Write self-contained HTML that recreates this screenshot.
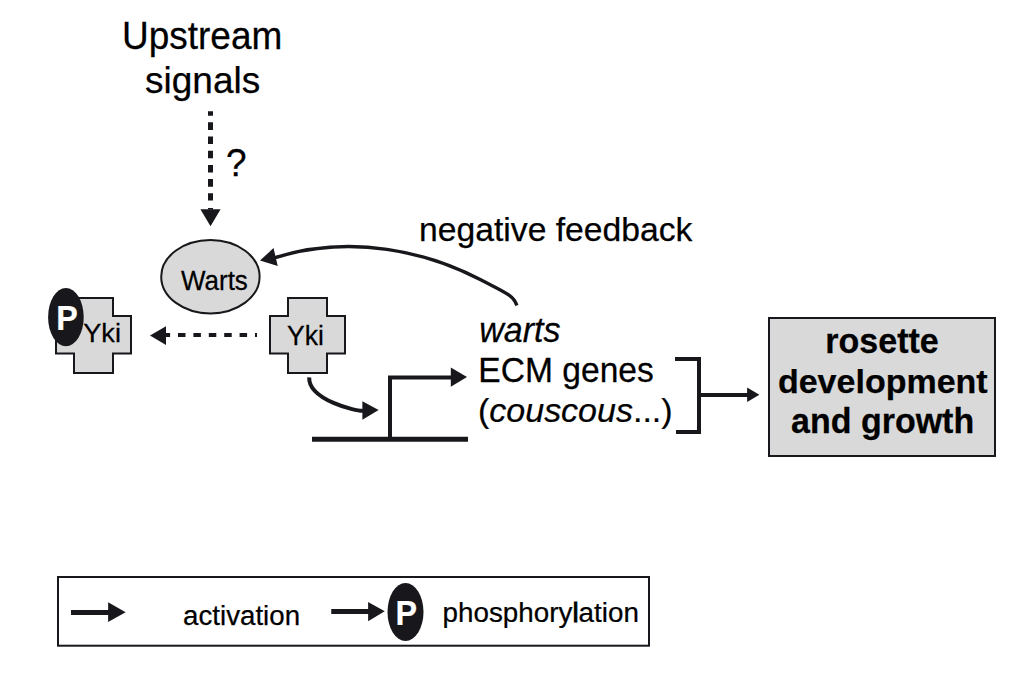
<!DOCTYPE html>
<html><head><meta charset="utf-8">
<style>
html,body{margin:0;padding:0;background:#fff;width:1024px;height:680px;overflow:hidden}
svg{display:block}
text{font-family:"Liberation Sans",sans-serif;fill:#000;stroke:#000;stroke-width:0.25px}
</style></head><body>
<svg width="1024" height="680" viewBox="0 0 1024 680">
<rect width="1024" height="680" fill="#fff"/>
<!-- Upstream signals -->
<text transform="translate(122,48.6) scale(1,1.035)" font-size="37">Upstream</text>
<text transform="translate(145,93.3) scale(1,1)" font-size="37">signals</text>
<!-- dotted arrow -->
<line x1="210.5" y1="111.25" x2="210.5" y2="200.6" stroke="#18171b" stroke-width="5" stroke-dasharray="7.6 6.6" stroke-dashoffset="3.15"/>
<polygon points="200.4,209.2 220.6,209.2 210.5,226.3" fill="#18171b"/><rect x="208" y="208" width="5" height="1.5" fill="#18171b"/>
<text transform="translate(226,175.6) scale(1,1.035)" font-size="37">?</text>
<!-- Warts ellipse -->
<ellipse cx="210.4" cy="276.7" rx="49.2" ry="36.7" fill="#d9d9d9" stroke="#18171b" stroke-width="2"/>
<text transform="translate(181,290) scale(1,1.035)" font-size="26">Warts</text>
<!-- left cross -->
<path d="M74 298 H113 V316 H131 V353.5 H113 V373 H74 V353.5 H56 V316 H74 Z" fill="#d9d9d9" stroke="#18171b" stroke-width="2"/>
<ellipse cx="65.9" cy="317.2" rx="17.8" ry="29.1" fill="#18171b"/>
<text transform="translate(56.2,330.3) scale(0.95,1.04)" font-size="34" font-weight="bold" style="fill:#fff;stroke:#fff;stroke-width:0.2px">P</text>
<text transform="translate(83.2,341.9) scale(1.045,1.01)" font-size="26">Yki</text>
<!-- right cross -->
<path d="M288 298 H327 V316 H345 V353.5 H327 V373 H288 V353.5 H270 V316 H288 Z" fill="#d9d9d9" stroke="#18171b" stroke-width="2"/>
<text transform="translate(287,345) scale(1,1.035)" font-size="26.5">Yki</text>
<!-- dashed arrow -->
<line x1="257" y1="335" x2="166" y2="335" stroke="#18171b" stroke-width="4" stroke-dasharray="7.5 7.9" stroke-dashoffset="5.5"/>
<polygon points="150,335.5 166,326.25 166,345" fill="#18171b"/>
<!-- curved arrow Yki -> promoter -->
<path d="M309.2 377.3 C308.2 400 357.2 411.7 363 410.8" fill="none" stroke="#18171b" stroke-width="4"/>
<polygon points="378.6,410.1 362.4,401.3 362.4,419.8" fill="#18171b"/>
<!-- promoter -->
<line x1="312" y1="439.3" x2="468" y2="439.3" stroke="#18171b" stroke-width="5"/>
<polyline points="390,439 390,377.6 452,377.6" fill="none" stroke="#18171b" stroke-width="4"/>
<polygon points="467,377 450.8,367.4 450.8,386.7" fill="#18171b"/>
<!-- feedback curve -->
<path d="M516.8 305.5 C513.7 295.4 504.8 292.4 480.7 279.8 C427.7 252.1 352.5 233.6 274.5 257.8" fill="none" stroke="#18171b" stroke-width="3.4"/>
<polygon points="260,260.6 273.5,248.1 277.75,266" fill="#18171b"/>
<text transform="translate(419,240.6) scale(1,1)" font-size="33.7">negative feedback</text>
<!-- genes text -->
<text transform="translate(479.2,342) scale(1,1.005)" font-size="34" font-style="italic">warts</text>
<text transform="translate(478.3,381.5) scale(1,1.035)" font-size="33.6">ECM genes</text>
<text transform="translate(478,422.4) scale(1,0.995)" font-size="34">(<tspan font-style="italic">couscous</tspan>...)</text>
<!-- bracket -->
<polyline points="675,359 699,359 699,432 676,432" fill="none" stroke="#18171b" stroke-width="4"/>
<line x1="699" y1="395" x2="748" y2="395" stroke="#18171b" stroke-width="4"/>
<polygon points="759.4,394.75 747.1,387.5 747.1,401.9" fill="#18171b"/>
<!-- rosette box -->
<rect x="769" y="318" width="226" height="138" fill="#d9d9d9" stroke="#18171b" stroke-width="2"/>
<text transform="translate(882,352.5) scale(1,1.035)" font-size="34" font-weight="bold" text-anchor="middle">rosette</text>
<text transform="translate(882.8,392.8) scale(1,1)" font-size="34" font-weight="bold" text-anchor="middle">development</text>
<text transform="translate(882.6,433.4) scale(1,1.035)" font-size="34" font-weight="bold" text-anchor="middle">and growth</text>
<!-- legend -->
<rect x="58" y="577" width="591" height="68.7" fill="none" stroke="#18171b" stroke-width="2"/>
<line x1="71" y1="612.4" x2="109" y2="612.4" stroke="#18171b" stroke-width="5"/>
<polygon points="125.6,612.25 108.1,602.25 108.1,621.9" fill="#18171b"/>
<text transform="translate(183.1,625.1) scale(1,1)" font-size="27.7">activation</text>
<line x1="331.25" y1="611.4" x2="369" y2="611.4" stroke="#18171b" stroke-width="5"/>
<polygon points="384.75,611.25 368.1,601.9 368.1,621.25" fill="#18171b"/>
<ellipse cx="405.5" cy="612" rx="18" ry="29" fill="#18171b"/>
<text transform="translate(395.6,625.1) scale(0.95,1.05)" font-size="34" font-weight="bold" style="fill:#fff;stroke:#fff;stroke-width:0.2px">P</text>
<text transform="translate(442.6,621.6) scale(1,0.99)" font-size="27.8">phosphory<tspan stroke="#000" stroke-width="0.9">l</tspan>ation</text>
</svg>
</body></html>
